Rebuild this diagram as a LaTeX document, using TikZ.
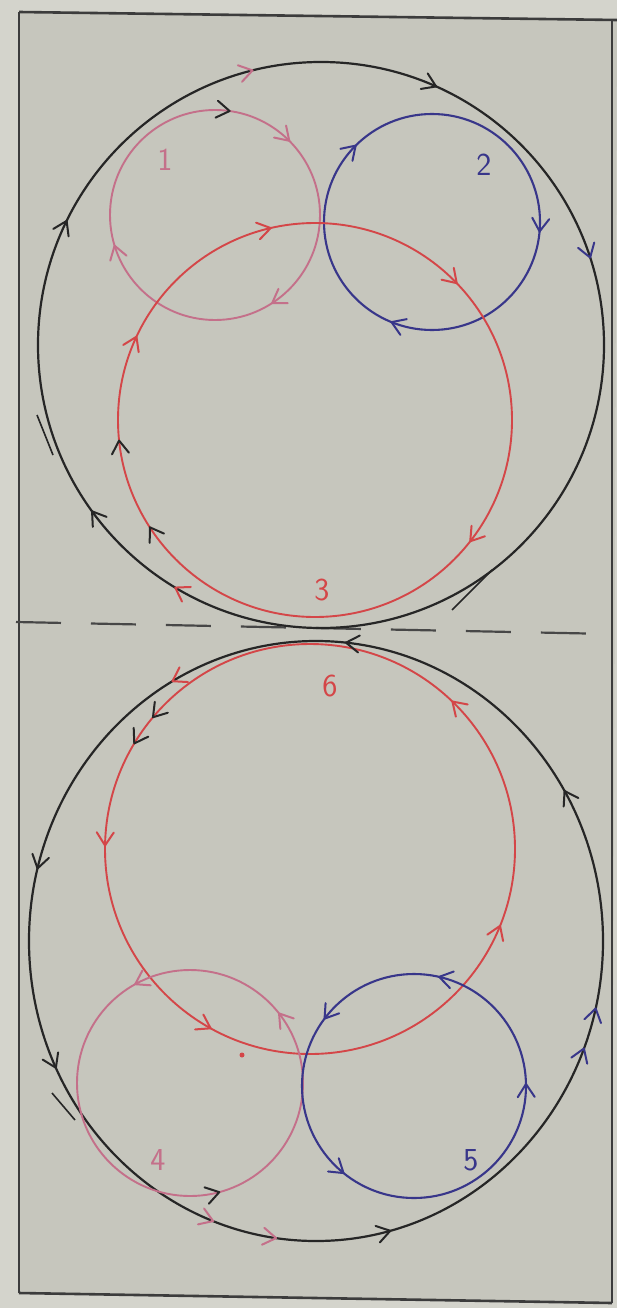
\documentclass[tikz,border=0pt]{standalone}
\usetikzlibrary{calc}
\definecolor{paper}{RGB}{198,198,189}
\definecolor{paperout}{RGB}{212,212,204}
\definecolor{ink}{RGB}{38,38,38}
\definecolor{frameink}{RGB}{60,60,60}
\definecolor{redink}{RGB}{212,70,72}
\definecolor{pinkink}{RGB}{196,112,138}
\definecolor{blueink}{RGB}{56,54,138}
\tikzset{
  chev/.pic={\draw[line width=2pt,line cap=round,line join=round] (-13,8.5)--(0,0)--(-13,-8.5);},
  blackc/.style={draw=ink,line width=2.2pt},
  redc/.style={draw=redink,line width=1.9pt},
  pinkc/.style={draw=pinkink,line width=1.9pt},
  bluec/.style={draw=blueink,line width=2.1pt},
  framec/.style={draw=frameink,line width=2.6pt},
  dashc/.style={draw=ink!85,line width=2.2pt,dash pattern=on 45pt off 30pt},
  lbl/.style={font=\sffamily\fontsize{32}{32}\selectfont,inner sep=0pt}
}
\newcommand\cwchev[4]{\pic[#1,rotate={#3-90}] at ($(#2)+(#3:#4)$) {chev};}
\newcommand\ccwchev[4]{\pic[#1,rotate={#3+90}] at ($(#2)+(#3:#4)$) {chev};}
\begin{document}
\begin{tikzpicture}[x=1pt,y=1pt]
\useasboundingbox (0,0) rectangle (617,-1308);
\fill[paperout] (0,0) rectangle (617,-1308);
\fill[paper] (19,-12) -- (617,-20) -- (612,-1303) -- (19,-1293) -- cycle;
% frame
\draw[framec] (19,-12) -- (617,-20);
\draw[framec] (19,-12) -- (19,-1293);
\draw[framec] (19,-1293) -- (612,-1303);
\draw[framec] (612,-20) -- (612,-1303);
% dashed separator
\coordinate (d1) at (16,-622);
\coordinate (d2) at (612,-634);
\draw[dashc] (d1) -- (d2);
% centres
\coordinate (T) at (321,-345);
\coordinate (C1) at (215,-215);
\coordinate (C2) at (432,-222);
\coordinate (C3) at (315,-420);
\coordinate (B) at (316,-941);
\coordinate (C6) at (310,-849);
\coordinate (C4) at (190,-1083);
\coordinate (C5) at (414,-1086);
% circles
\draw[blackc] (T) circle (283);
\draw[pinkc] (C1) circle (105);
\draw[bluec] (C2) circle (108);
\draw[redc] (C3) circle (197);
\draw[blackc] (B) ellipse (287 and 300);
\draw[redc] (C6) circle (205);
\draw[pinkc] (C4) circle (113);
\draw[bluec] (C5) circle (112);
% stray double strokes
\draw[blackc,line width=1.6pt] (37,-415) -- (53,-455);
\draw[blackc,line width=1.6pt] (452,-610) -- (492,-570);
\draw[blackc,line width=1.6pt] (52,-1093) -- (75,-1120);
% top outer circle (clockwise)
\cwchev{ink}{T}{66}{283}
\cwchev{ink}{T}{154}{283}
\cwchev{ink}{T}{216}{283}
\cwchev{redink}{T}{239}{283}
\cwchev{pinkink}{T}{104}{283}
\cwchev{blueink}{T}{18}{283}
% circle 1
\cwchev{ink}{C1}{82}{105}
\cwchev{pinkink}{C1}{45}{105}
\cwchev{pinkink}{C1}{197}{105}
\cwchev{pinkink}{C1}{-57}{105}
% circle 2
\cwchev{blueink}{C2}{135}{108}
\cwchev{blueink}{C2}{-5}{108}
\cwchev{blueink}{C2}{-112}{108}
% circle 3
\cwchev{redink}{C3}{103}{197}
\cwchev{redink}{C3}{44}{197}
\cwchev{redink}{C3}{155}{197}
\cwchev{redink}{C3}{-38}{197}
\cwchev{ink}{C3}{186}{197}
\cwchev{ink}{C3}{213}{197}
% bottom outer (counter-clockwise)
\ccwchev{ink}{B}{84}{287 and 300}
\ccwchev{redink}{B}{120}{287 and 300}
\ccwchev{ink}{B}{166}{287 and 300}
\ccwchev{ink}{B}{205}{287 and 300}
\ccwchev{ink}{B}{-75}{287 and 300}
\ccwchev{pinkink}{B}{-111}{287 and 300}
\ccwchev{pinkink}{B}{-98}{287 and 300}
\ccwchev{blueink}{B}{-21}{287 and 300}
\ccwchev{blueink}{B}{-13}{287 and 300}
\ccwchev{ink}{B}{30}{287 and 300}
% circle 6
\ccwchev{redink}{C6}{46}{205}
\ccwchev{redink}{C6}{-22}{205}
\ccwchev{redink}{C6}{179}{205}
\ccwchev{redink}{C6}{-119}{205}
\ccwchev{ink}{C6}{140}{205}
\ccwchev{ink}{C6}{149}{205}
% circle 4
\ccwchev{pinkink}{C4}{119}{113}
\ccwchev{pinkink}{C4}{38}{113}
\ccwchev{ink}{C4}{-75}{113}
% circle 5
\ccwchev{blueink}{C5}{77}{112}
\ccwchev{blueink}{C5}{143}{112}
\ccwchev{blueink}{C5}{-129}{112}
\ccwchev{blueink}{C5}{1}{112}
% red dot
\fill[redink] (242,-1055) circle (2.5);
% labels
\node[lbl,text=pinkink] (l1) at (165,-160) {1};
\node[lbl,text=blueink] (l2) at (484,-165) {2};
\node[lbl,text=redink] (l3) at (322,-590) {3};
\node[lbl,text=redink] (l6) at (330,-686) {6};
\node[lbl,text=pinkink] (l4) at (158,-1160) {4};
\node[lbl,text=blueink] (l5) at (471,-1160) {5};
\end{tikzpicture}
\end{document}
